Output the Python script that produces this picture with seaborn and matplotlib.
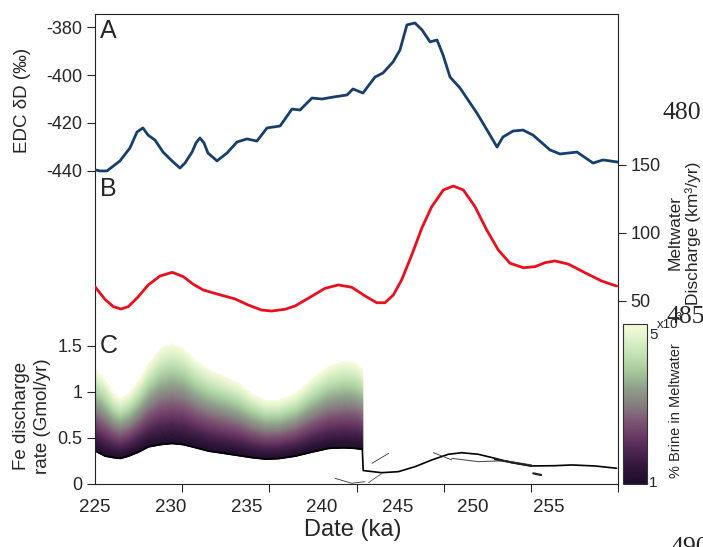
import numpy as np
import matplotlib
matplotlib.use("Agg")
import matplotlib.pyplot as plt
import seaborn as sns
from matplotlib.colors import LinearSegmentedColormap, Normalize
from matplotlib.colorbar import ColorbarBase

# ---------------- data ----------------
# Panel A: EDC deltaD (permil)
edc_age = [225.05, 225.33, 225.79, 226.65, 227.31, 227.78, 228.17, 228.51, 228.97, 229.50,
           230.09, 230.62, 230.95, 231.42, 231.68, 231.94, 232.21, 232.47, 233.07, 233.73,
           234.39, 235.05, 235.71, 236.38, 237.24, 238.03, 238.56, 239.35, 240.01, 240.74,
           241.67, 242.06, 242.72, 243.52, 244.05, 244.71, 245.17, 245.63, 246.16, 246.63,
           247.16, 247.62, 248.02, 248.48, 249.14, 250.26, 250.93, 251.59, 251.98, 252.65,
           253.31, 253.97, 255.09, 255.75, 256.88, 257.94, 258.60, 259.59]
edc_dD = [-439.7, -440.1, -440.1, -435.9, -430.5, -423.8, -422.1, -425.1, -427.2, -432.2,
          -435.9, -438.9, -436.8, -432.2, -428.4, -426.3, -428.4, -432.6, -435.9, -432.6,
          -428.0, -426.7, -427.6, -422.1, -421.3, -414.2, -414.6, -409.6, -410.0, -409.2,
          -408.3, -405.8, -407.5, -400.8, -399.1, -394.5, -389.5, -379.0, -378.2, -381.1,
          -386.1, -385.3, -391.6, -400.8, -405.4, -415.9, -423.0, -430.1, -425.9, -423.4,
          -423.0, -425.1, -431.3, -433.0, -432.2, -436.8, -435.5, -436.4]

# Panel B: meltwater discharge (km3/yr)
melt_age = [225.00, 225.66, 226.21, 226.72, 227.20, 227.86, 228.52, 229.30, 230.11, 230.84,
            231.50, 232.16, 233.15, 234.26, 235.14, 236.02, 236.69, 237.57, 238.23, 239.11,
            240.21, 241.09, 241.98, 242.86, 243.63, 244.18, 244.73, 245.28, 245.95, 246.61,
            247.27, 248.04, 248.70, 249.36, 250.13, 250.91, 251.67, 252.45, 253.33, 254.10,
            254.76, 255.42, 256.30, 257.41, 258.51, 259.50]
melt_q = [60.3, 51.0, 45.6, 43.9, 45.6, 52.9, 61.6, 68.2, 70.9, 67.7,
          62.1, 57.9, 54.7, 51.3, 46.8, 43.1, 42.4, 43.7, 46.1, 51.8,
          59.1, 61.6, 59.9, 53.5, 48.5, 48.5, 54.2, 65.3, 83.7, 103.4,
          119.3, 131.6, 134.5, 131.6, 119.3, 102.1, 87.4, 77.6, 74.3, 75.1,
          78.0, 79.3, 77.0, 70.6, 64.5, 60.8]

# Panel C: Fe discharge band (Gmol/yr), brine 1e-3 (low) to 5e-3 (high)
fe_age = [225.00, 225.66, 226.21, 226.65, 227.20, 227.86, 228.52, 229.30, 230.07, 230.84,
          231.61, 232.49, 233.60, 234.48, 235.36, 236.24, 237.12, 238.23, 239.33, 240.43,
          241.42, 242.20, 242.68]
fe_low = [0.36, 0.304, 0.288, 0.279, 0.304, 0.348, 0.405, 0.429, 0.442, 0.429,
          0.397, 0.359, 0.332, 0.310, 0.288, 0.272, 0.277, 0.304, 0.348, 0.388,
          0.395, 0.388, 0.377]
fe_high = [1.258, 1.130, 0.986, 0.932, 0.986, 1.130, 1.312, 1.475, 1.529, 1.475,
           1.348, 1.247, 1.166, 1.095, 0.986, 0.913, 0.913, 0.986, 1.149, 1.283,
           1.337, 1.318, 1.247]
fe_tail_age = [242.74, 243.96, 245.06, 246.16, 247.27, 248.37, 249.25, 250.35, 251.46,
               252.56, 253.88, 255.42, 256.53, 258.07, 259.50]
fe_tail = [0.146, 0.123, 0.134, 0.188, 0.261, 0.323, 0.340, 0.323, 0.279,
           0.232, 0.196, 0.199, 0.207, 0.196, 0.171]

# stray line fragments in panel C
frag_a_age = [243.32, 244.42]; frag_a = [0.225, 0.333]
frag_b_age = [240.87, 241.97, 242.85]; frag_b = [0.062, 0.008, 0.025]
frag_c_age = [243.09, 243.97]; frag_c = [0.014, 0.116]
frag_d_age = [247.38, 248.60]; frag_d = [0.341, 0.261]
frag_e_age = [248.60, 250.35, 252.12, 253.88]; frag_e = [0.279, 0.243, 0.253, 0.207]
frag_f_age = [251.46, 253.88]; frag_f = [0.268, 0.196]
frag_g_age = [253.99, 254.50]; frag_g = [0.116, 0.098]

x_ticks = [225, 230, 235, 240, 245, 250, 255]
x_ticklabels = ["225", "230", "235", "240", "245", "250", "255"]
a_ticks = [-440, -420, -400, -380]
b_ticks = [50, 100, 150]
c_ticks = [0, 0.5, 1, 1.5]
c_ticklabels = ["0", "0.5", "1", "1.5"]
brine_range = [1, 5]

# ---------------- style ----------------
sns.set_style("ticks")
plt.rcParams['font.family'] = ['Liberation Sans', 'DejaVu Sans']
plt.rcParams['axes.linewidth'] = 0.8
plt.rcParams['axes.unicode_minus'] = False

W, H = 703, 547
fig = plt.figure(figsize=(W / 100, H / 100), dpi=100)
L, R, T, B = 95, 618, 14, 484
rect = [L / W, 1 - B / H, (R - L) / W, (B - T) / H]

def fx(px):
    return px / W

def fy(py):
    return 1 - py / H

axC = fig.add_axes(rect)
axA = fig.add_axes(rect, sharex=axC)
axB = fig.add_axes(rect, sharex=axC)

xmin, xmax = 225.0, 259.59
axC.set_xlim(xmin, xmax)

# colormap for brine fraction
cmap = LinearSegmentedColormap.from_list("brine", [
    (0.00, "#1c0d2b"), (0.10, "#2f1638"), (0.20, "#4a2450"), (0.30, "#6a3a64"),
    (0.40, "#7e5875"), (0.50, "#878080"), (0.60, "#8fa08c"), (0.70, "#a4c69b"),
    (0.80, "#bfe0b0"), (0.90, "#dcf0c8"), (1.00, "#f6fbdc")])

# ---------------- panel C ----------------
lo = np.array(fe_low)
hi = np.array(fe_high)
n = 90
for k in range(n):
    f0, f1 = k / n, (k + 1) / n
    c = cmap((k + 0.5) / n)
    axC.fill_between(fe_age, lo + f0 * (hi - lo), lo + f1 * (hi - lo),
                     color=c, lw=0.6, edgecolor=c)
black_age = fe_age + fe_tail_age
black_val = fe_low + fe_tail
sns.lineplot(x=black_age, y=black_val, ax=axC, color="black", lw=1.2,
             sort=False, estimator=None)
for ages, vals, lw, col in [(frag_a_age, frag_a, 0.6, "#333333"),
                            (frag_b_age, frag_b, 0.6, "#333333"),
                            (frag_c_age, frag_c, 0.6, "#555555"),
                            (frag_d_age, frag_d, 0.6, "#333333"),
                            (frag_e_age, frag_e, 0.8, "#555555"),
                            (frag_f_age, frag_f, 1.5, "#222222"),
                            (frag_g_age, frag_g, 1.6, "#222222")]:
    sns.lineplot(x=ages, y=vals, ax=axC, color=col, lw=lw, sort=False, estimator=None)

axC.set_ylim(0, (B - T) / 92.0)
axC.set_yticks(c_ticks)
axC.set_yticklabels(c_ticklabels)
axC.set_xticks(x_ticks)
axC.set_xticklabels(x_ticklabels)
axC.set_xticks(np.linspace(xmin, xmax, 7), minor=True)
axC.tick_params(axis='x', which='major', length=0, pad=11, labelsize=13.5)
axC.tick_params(axis='x', which='minor', length=6, width=0.8, direction='out', bottom=True)
axC.tick_params(axis='y', which='major', length=6, width=0.8, direction='out', pad=3,
                labelsize=13)
axC.tick_params(axis='y', which='minor', left=False)
for s in axC.spines.values():
    s.set_visible(True)
    s.set_linewidth(0.8)
    s.set_color("#222222")
axC.set_xlabel("")
axC.set_ylabel("")

# ---------------- panel A ----------------
axA.patch.set_visible(False)
sns.lineplot(x=edc_age, y=edc_dD, ax=axA, color="#173f6b", lw=2.0, sort=False, estimator=None)
top_a = -380 + (27.3 - T) / 2.39
bot_a = -440 - (B - 170.7) / 2.39
axA.set_ylim(bot_a, top_a)
axA.set_yticks(a_ticks)
axA.tick_params(axis='y', length=6, width=0.8, direction='out', pad=3, labelsize=13)
axA.tick_params(axis='x', which='both', bottom=False, labelbottom=False)
for s in axA.spines.values():
    s.set_visible(False)
axA.set_xlabel("")
axA.set_ylabel("")

# ---------------- panel B ----------------
axB.patch.set_visible(False)
sns.lineplot(x=melt_age, y=melt_q, ax=axB, color="#e8101e", lw=2.0, sort=False, estimator=None)
top_b = 150 + (165 - T) / 1.357
bot_b = 50 - (B - 300.7) / 1.357
axB.set_ylim(bot_b, top_b)
axB.yaxis.tick_right()
axB.set_yticks(b_ticks)
axB.tick_params(axis='y', length=6, width=0.8, direction='out', pad=3, labelsize=13,
                left=False, right=True, labelleft=False, labelright=True)
axB.tick_params(axis='x', which='both', bottom=False, labelbottom=False)
for s in axB.spines.values():
    s.set_visible(False)
axB.set_xlabel("")
axB.set_ylabel("")

# ---------------- colorbar ----------------
cax = fig.add_axes([fx(623), fy(484), 24 / W, 160 / H])
cb = ColorbarBase(cax, cmap=cmap, norm=Normalize(*brine_range), orientation='vertical')
cb.set_ticks([])
cb.outline.set_linewidth(0.8)
cb.outline.set_edgecolor("#333333")
cax.text(1.08, 0.93, "5", transform=cax.transAxes, fontsize=11, ha='left', va='center')
cax.text(1.08, 0.005, "1", transform=cax.transAxes, fontsize=11, ha='left', va='center')
fig.text(fx(657), fy(325), "x10", fontsize=9.5, ha='left', va='center')
fig.text(fx(674), fy(317), "-3", fontsize=7, ha='left', va='center')
fig.text(fx(676), fy(411), "% Brine in Meltwater", fontsize=10.5, rotation=90,
         ha='center', va='center')

# ---------------- labels ----------------
fig.text(fx(108.5), fy(30.5), "A", fontsize=18, ha='center', va='center')
fig.text(fx(108.5), fy(189), "B", fontsize=18, ha='center', va='center')
fig.text(fx(109), fy(346), "C", fontsize=18, ha='center', va='center')
fig.text(fx(23), fy(100), "EDC δD (‰)", fontsize=13.5, rotation=90, ha='center', va='center')
fig.text(fx(32), fy(416), "Fe discharge\nrate (Gmol/yr)", fontsize=13.5, rotation=90,
         ha='center', va='center', multialignment='center', linespacing=1.25)
fig.text(fx(684), fy(233), "Meltwater\nDischarge (km³/yr)", fontsize=12.5, rotation=90,
         ha='center', va='center', multialignment='center', linespacing=1.2)
fig.text(fx(353), fy(530), "Date (ka)", fontsize=17, ha='center', va='center')

# manuscript line numbers
fig.text(fx(682), fy(113), "480", fontsize=18.5, family=['Liberation Serif'], ha='center', va='center')
fig.text(fx(686), fy(317), "485", fontsize=18.5, family=['Liberation Serif'], ha='center', va='center')
fig.text(fx(690), fy(537), "490", fontsize=18.5, family=['Liberation Serif'], ha='center', va='top')

fig.savefig("out.png", dpi=100)
